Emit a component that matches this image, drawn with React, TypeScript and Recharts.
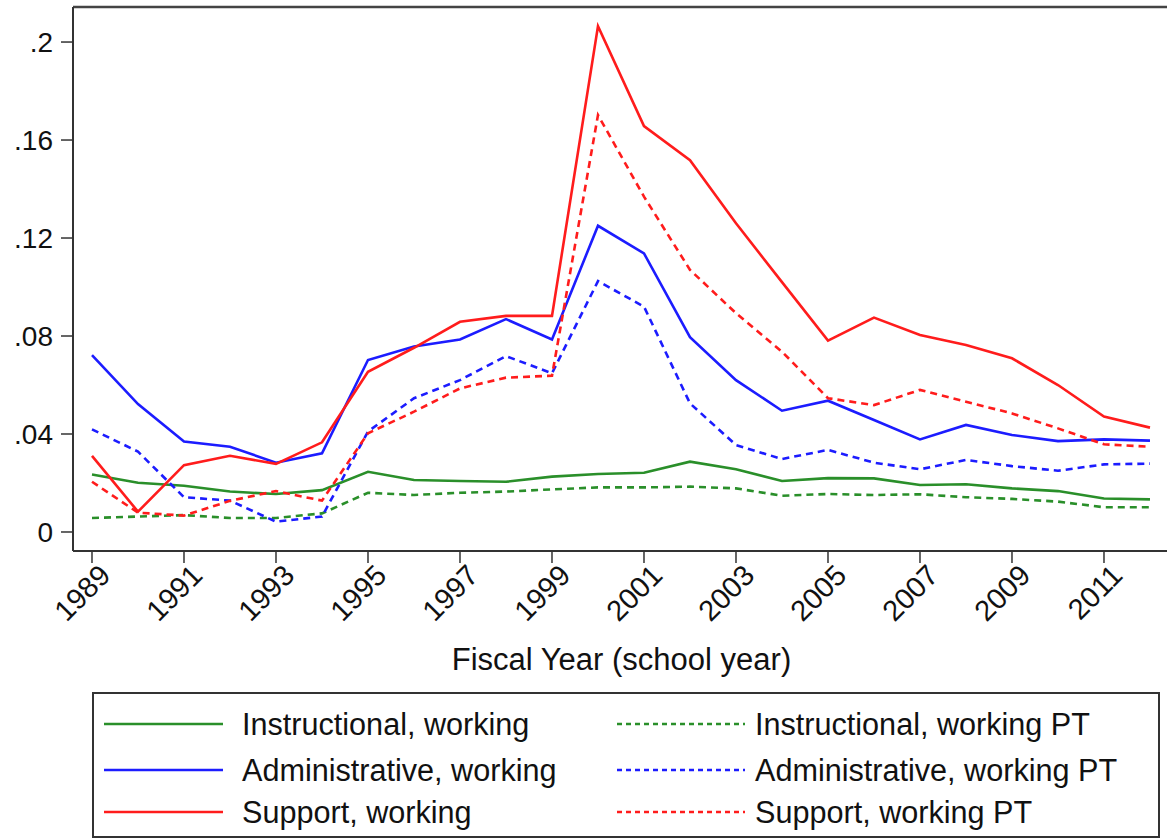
import React from 'react';
import { LineChart, Line, XAxis, YAxis, ReferenceLine, Label } from 'recharts';

const years = [
  1989, 1990, 1991, 1992, 1993, 1994, 1995, 1996, 1997, 1998, 1999, 2000,
  2001, 2002, 2003, 2004, 2005, 2006, 2007, 2008, 2009, 2010, 2011, 2012,
];

const instrWorking = [
  0.0235, 0.0201, 0.0189, 0.0165, 0.0155, 0.0171, 0.0246, 0.0212, 0.0208, 0.0205, 0.0226, 0.0237,
  0.0242, 0.0287, 0.0256, 0.0208, 0.022, 0.0219, 0.0192, 0.0195, 0.0178, 0.0167, 0.0137, 0.0133,
];
const adminWorking = [
  0.0722, 0.0522, 0.0369, 0.0348, 0.0283, 0.0321, 0.0702, 0.0757, 0.0786, 0.0869, 0.0786, 0.125,
  0.1137, 0.0795, 0.062, 0.0495, 0.0536, 0.0457, 0.0378, 0.0437, 0.0396, 0.0371, 0.0378, 0.0373,
];
const supportWorking = [
  0.0311, 0.0083, 0.0273, 0.0311, 0.0278, 0.0366, 0.0654, 0.0752, 0.0858, 0.0882, 0.0882, 0.2065,
  0.1657, 0.1518, 0.126, 0.102, 0.0781, 0.0875, 0.0804, 0.0763, 0.0709, 0.06, 0.0471, 0.0426,
];
const instrPT = [
  0.0057, 0.0063, 0.0069, 0.0057, 0.0057, 0.0076, 0.016, 0.0151, 0.016, 0.0165, 0.0174, 0.0182,
  0.0182, 0.0185, 0.0178, 0.0148, 0.0155, 0.0151, 0.0154, 0.0142, 0.0135, 0.0124, 0.0101, 0.0101,
];
const adminPT = [
  0.0419, 0.0328, 0.0142, 0.0128, 0.0042, 0.0063, 0.041, 0.0546, 0.062, 0.0718, 0.0648, 0.1024,
  0.092, 0.0525, 0.0355, 0.0298, 0.0335, 0.0283, 0.0256, 0.0294, 0.0269, 0.025, 0.0276, 0.0279,
];
const supportPT = [
  0.0205, 0.0079, 0.0067, 0.0127, 0.0167, 0.0128, 0.0403, 0.0491, 0.0586, 0.063, 0.0638, 0.1702,
  0.1369, 0.107, 0.0893, 0.0736, 0.0546, 0.0518, 0.058, 0.0532, 0.0484, 0.0423, 0.0358, 0.0348,
];

const xTicks = [1989, 1991, 1993, 1995, 1997, 1999, 2001, 2003, 2005, 2007, 2009, 2011];
const yTicks = [0, 0.04, 0.08, 0.12, 0.16, 0.2];

const GREEN = '#2a8f2a';
const BLUE = '#1c1cff';
const RED = '#ff1c1c';
const FONT = '"Liberation Sans", Arial, sans-serif';

const series = [
  { key: 'instrWorking', name: 'Instructional, working', values: instrWorking, color: GREEN, dashed: false },
  { key: 'adminWorking', name: 'Administrative, working', values: adminWorking, color: BLUE, dashed: false },
  { key: 'supportWorking', name: 'Support, working', values: supportWorking, color: RED, dashed: false },
  { key: 'instrPT', name: 'Instructional, working PT', values: instrPT, color: GREEN, dashed: true },
  { key: 'adminPT', name: 'Administrative, working PT', values: adminPT, color: BLUE, dashed: true },
  { key: 'supportPT', name: 'Support, working PT', values: supportPT, color: RED, dashed: true },
];

const data = years.map((year, i) => {
  const row: Record<string, number> = { year };
  series.forEach((s) => {
    row[s.key] = s.values[i];
  });
  return row;
});

// plot region padding around the data, Stata style
const X_DOMAIN = [1988.587, 2012.435];
const Y_DOMAIN = [-0.00776, 0.2143];

const fmtY = (v: number) => (v === 0 ? '0' : String(v).replace(/^0/, ''));

const YearTick = (props: any) => {
  const { x, y, payload } = props;
  return (
    <g transform={`translate(${x + 13},${y + 5})`}>
      <text
        textAnchor="end"
        dy="0.35em"
        transform="rotate(-45)"
        fontSize={29}
        fill="#111"
        fontFamily={FONT}
      >
        {payload.value}
      </text>
    </g>
  );
};

const LegendBox = () => {
  const rows = [0, 1, 2];
  const rowY = [30, 76, 118];
  return (
    <div
      style={{
        position: 'absolute',
        left: 92,
        top: 692,
        width: 1068,
        height: 146,
        boxSizing: 'border-box',
        border: '2px solid #333',
        background: '#fff',
        fontFamily: FONT,
        fontSize: 30.6,
        color: '#111',
      }}
    >
      {rows.map((r) =>
        [series[r], series[r + 3]].map((s, c) => {
          const swX = c === 0 ? 9 : 522;
          const txX = c === 0 ? 148 : 661;
          return (
            <React.Fragment key={s.key}>
              <svg
                width={130}
                height={10}
                style={{ position: 'absolute', left: swX, top: rowY[r] - 5 }}
              >
                <line
                  x1={1}
                  x2={c === 0 ? 120 : 129}
                  y1={5}
                  y2={5}
                  stroke={s.color}
                  strokeWidth={2.6}
                  strokeDasharray={s.dashed ? '5 4' : undefined}
                />
              </svg>
              <span
                style={{
                  position: 'absolute',
                  left: txX,
                  top: rowY[r] - 19,
                  lineHeight: '38px',
                  whiteSpace: 'nowrap',
                }}
              >
                {s.name}
              </span>
            </React.Fragment>
          );
        })
      )}
    </div>
  );
};

export default function App() {
  return (
    <div
      style={{
        position: 'absolute',
        left: 0,
        top: 0,
        width: 1167,
        height: 840,
        overflow: 'hidden',
        background: '#fff',
      }}
    >
      <LineChart
        width={1170}
        height={840}
        data={data}
        margin={{ top: 7, right: 0, bottom: 170, left: 0 }}
      >
        <XAxis
          dataKey="year"
          type="number"
          domain={X_DOMAIN}
          allowDataOverflow
          ticks={xTicks}
          interval={0}
          height={119}
          tickSize={12}
          tickMargin={2}
          tick={<YearTick />}
          stroke="#333"
          strokeWidth={2}
          tickLine={{ stroke: '#333', strokeWidth: 1.5 }}
        >
          <Label
            value="Fiscal Year (school year)"
            position="insideBottom"
            offset={0}
            fontSize={31}
            fill="#111"
            fontFamily={FONT}
          />
        </XAxis>
        <YAxis
          type="number"
          domain={Y_DOMAIN}
          allowDataOverflow
          ticks={yTicks}
          interval={0}
          width={73}
          tickSize={12}
          tickMargin={8}
          tickFormatter={fmtY}
          tick={{ fontSize: 28, fill: '#111', fontFamily: FONT }}
          stroke="#333"
          strokeWidth={2}
          tickLine={{ stroke: '#333', strokeWidth: 1.5 }}
        />
        <ReferenceLine y={Y_DOMAIN[1]} stroke="#444" strokeWidth={2.5} />
        {series.map((s) => (
          <Line
            key={s.key}
            dataKey={s.key}
            name={s.name}
            stroke={s.color}
            strokeWidth={2.6}
            strokeDasharray={s.dashed ? '7 5' : undefined}
            dot={false}
            activeDot={false}
            isAnimationActive={false}
          />
        ))}
      </LineChart>
      <LegendBox />
    </div>
  );
}
